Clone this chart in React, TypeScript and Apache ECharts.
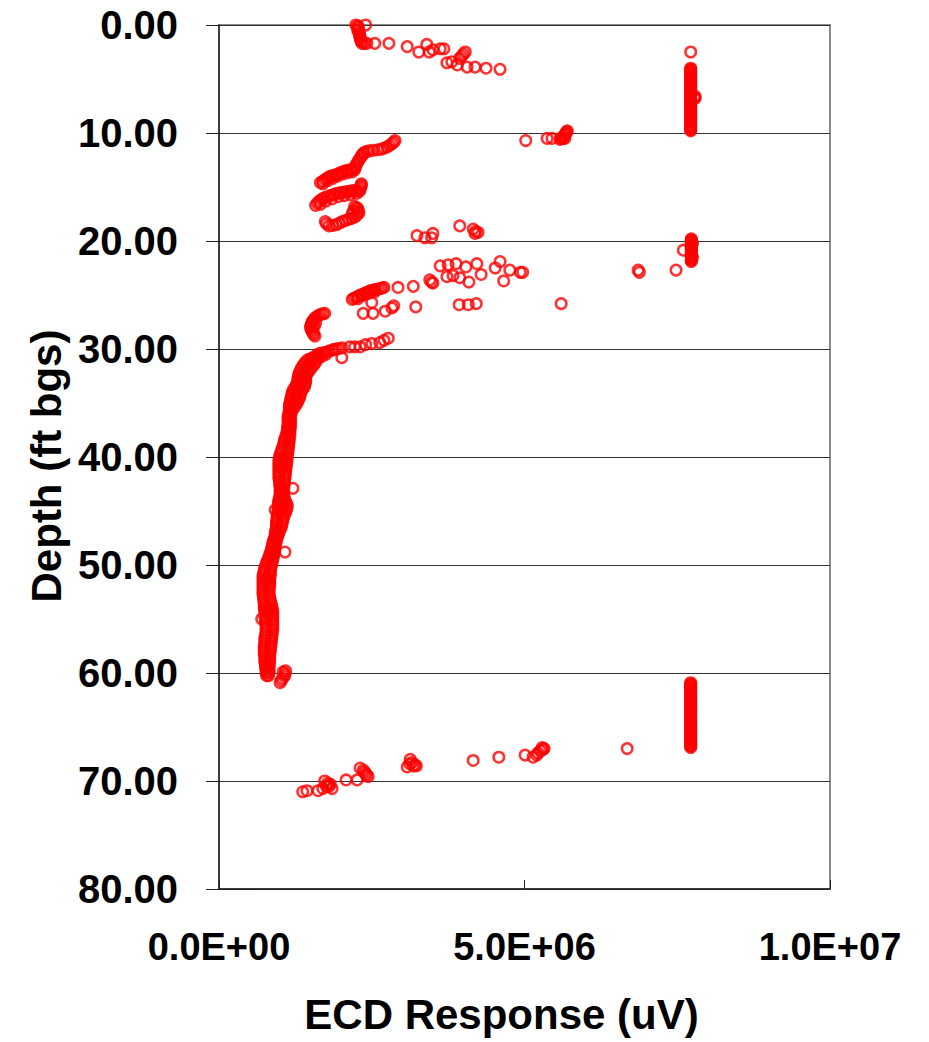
import React, { useEffect, useRef } from "react";
import * as echarts from "echarts";

// Each point: [ECD response in millions of uV, depth in ft bgs]
const topCluster: [number, number][] = [
  [2.24, 0.0], [2.40, 0.0], [2.27, 0.1], [2.28, 0.2], [2.28, 0.35], [2.27, 0.5], [2.29, 0.65],
  [2.30, 0.8], [2.30, 0.95], [2.31, 1.1], [2.31, 1.25], [2.32, 1.4], [2.33, 1.55], [2.34, 1.7],
  [2.38, 1.7], [2.42, 1.7], [2.55, 1.7], [2.78, 1.7], [3.08, 2.0], [3.27, 2.5], [3.40, 1.8],
  [3.44, 2.5], [3.50, 2.3], [3.62, 2.2], [3.68, 2.2], [3.73, 3.5], [3.81, 3.4], [3.90, 3.7],
  [3.94, 3.1], [4.00, 2.7], [4.03, 2.5], [3.97, 2.9], [4.06, 3.9], [4.19, 3.9], [4.37, 4.0],
  [4.60, 4.1],
];

const cluster10ft: [number, number][] = [
  [5.02, 10.7], [5.37, 10.5], [5.45, 10.5], [5.58, 10.6], [5.60, 10.5], [5.63, 10.5],
  [5.62, 10.4], [5.64, 10.3], [5.66, 10.2], [5.67, 10.1], [5.68, 10.0], [5.69, 9.9],
  [5.70, 9.8], [5.66, 10.5],
];

const columnUpper: [number, number][] = [
  [7.72, 2.5],
  [7.72, 4.0], [7.72, 4.1], [7.72, 4.2], [7.72, 4.3], [7.72, 4.4], [7.72, 4.5], [7.72, 4.6],
  [7.72, 4.7], [7.72, 4.8], [7.72, 4.9], [7.72, 5.0], [7.72, 5.1], [7.72, 5.2], [7.72, 5.3],
  [7.72, 5.4], [7.72, 5.5], [7.72, 5.6], [7.72, 5.7], [7.72, 5.8], [7.72, 5.9], [7.72, 6.0],
  [7.72, 6.1], [7.72, 6.2], [7.72, 6.3], [7.72, 6.4], [7.72, 6.5], [7.72, 6.6], [7.72, 6.7],
  [7.72, 6.8], [7.72, 6.9], [7.72, 7.0], [7.72, 7.1], [7.72, 7.2], [7.72, 7.3], [7.72, 7.4],
  [7.72, 7.5], [7.72, 7.6], [7.72, 7.7], [7.72, 7.8], [7.72, 7.9], [7.72, 8.0], [7.72, 8.1],
  [7.72, 8.2], [7.72, 8.3], [7.72, 8.4], [7.72, 8.5], [7.72, 8.6], [7.72, 8.7], [7.72, 8.8],
  [7.72, 8.9], [7.72, 9.0], [7.72, 9.1], [7.72, 9.2], [7.72, 9.3], [7.72, 9.4], [7.72, 9.5],
  [7.72, 9.6], [7.72, 9.7], [7.72, 9.8],
  [7.79, 6.6], [7.79, 6.7], [7.79, 6.8],
];

const columnMiddle: [number, number][] = [
  [7.73, 19.8], [7.73, 19.9], [7.73, 20.0], [7.73, 20.1], [7.73, 20.2], [7.73, 20.3],
  [7.73, 20.4], [7.73, 20.5], [7.73, 20.6], [7.73, 20.7], [7.73, 20.8], [7.73, 20.9],
  [7.73, 21.0], [7.73, 21.1], [7.73, 21.2], [7.73, 21.3], [7.73, 21.4], [7.73, 21.5],
  [7.73, 21.6], [7.73, 21.7], [7.73, 21.8], [7.73, 21.9],
  [7.75, 20.2], [7.75, 21.5],
  [7.60, 20.85], [7.48, 22.7], [6.86, 22.7], [6.88, 22.9],
];

const columnLower: [number, number][] = [
  [7.72, 60.9], [7.72, 61.0], [7.72, 61.1], [7.72, 61.2], [7.72, 61.3], [7.72, 61.4],
  [7.72, 61.5], [7.72, 61.6], [7.72, 61.7], [7.72, 61.8], [7.72, 61.9], [7.72, 62.0],
  [7.72, 62.1], [7.72, 62.2], [7.72, 62.3], [7.72, 62.4], [7.72, 62.5], [7.72, 62.6],
  [7.72, 62.7], [7.72, 62.8], [7.72, 62.9], [7.72, 63.0], [7.72, 63.1], [7.72, 63.2],
  [7.72, 63.3], [7.72, 63.4], [7.72, 63.5], [7.72, 63.6], [7.72, 63.7], [7.72, 63.8],
  [7.72, 63.9], [7.72, 64.0], [7.72, 64.1], [7.72, 64.2], [7.72, 64.3], [7.72, 64.4],
  [7.72, 64.5], [7.72, 64.6], [7.72, 64.7], [7.72, 64.8], [7.72, 64.9], [7.72, 65.0],
  [7.72, 65.1], [7.72, 65.2], [7.72, 65.3], [7.72, 65.4], [7.72, 65.5], [7.72, 65.6],
  [7.72, 65.7], [7.72, 65.8], [7.72, 65.9], [7.72, 66.0], [7.72, 66.1], [7.72, 66.2],
  [7.72, 66.3], [7.72, 66.4], [7.72, 66.5], [7.72, 66.6], [7.72, 66.7], [7.72, 66.8],
  [7.72, 66.9],
];

const band11to14: [number, number][] = [
  [2.88, 10.7], [2.86, 10.85], [2.83, 11.0], [2.79, 11.15], [2.75, 11.3], [2.70, 11.4],
  [2.66, 11.5], [2.60, 11.55], [2.52, 11.6], [2.46, 11.65], [2.42, 11.7], [2.38, 11.8],
  [2.36, 11.9], [2.34, 12.05], [2.33, 12.2], [2.30, 12.4], [2.28, 12.6], [2.26, 12.8],
  [2.24, 13.0], [2.23, 13.2], [2.22, 13.4], [2.18, 13.4], [2.15, 13.4], [2.11, 13.45],
  [2.07, 13.5], [2.02, 13.6], [1.98, 13.7], [1.94, 13.8], [1.90, 13.9], [1.86, 13.95],
  [1.82, 14.0], [1.78, 14.15], [1.74, 14.3], [1.70, 14.45], [1.66, 14.6],
  [1.70, 14.7], [1.78, 14.4], [1.86, 14.2], [1.94, 14.0], [2.02, 13.8], [2.10, 13.7],
  [2.18, 13.6],
];

const band15to17: [number, number][] = [
  [2.33, 14.7], [2.33, 14.85], [2.32, 15.0], [2.31, 15.2], [2.30, 15.4], [2.26, 15.35],
  [2.22, 15.3], [2.17, 15.35], [2.12, 15.4], [2.07, 15.45], [2.02, 15.5], [1.97, 15.55],
  [1.92, 15.6], [1.87, 15.7], [1.82, 15.8], [1.77, 15.9], [1.72, 16.0], [1.68, 16.15],
  [1.64, 16.3], [1.61, 16.5], [1.58, 16.7],
  [2.25, 15.6], [2.15, 15.7], [2.05, 15.8], [1.95, 15.9], [1.85, 16.1], [1.75, 16.3],
  [1.66, 16.6],
];

const band17to19: [number, number][] = [
  [2.22, 16.8], [2.25, 16.9], [2.27, 17.0], [2.28, 17.2], [2.29, 17.4], [2.26, 17.6],
  [2.22, 17.8], [2.17, 17.9], [2.12, 18.0], [2.07, 18.1], [2.02, 18.2], [1.97, 18.35],
  [1.92, 18.5], [1.86, 18.55], [1.80, 18.6], [1.76, 18.4], [1.74, 18.2],
  [2.20, 17.2], [2.18, 17.5],
];

const scatter19to20: [number, number][] = [
  [3.24, 19.5], [3.37, 19.7], [3.48, 19.7], [3.50, 19.3], [3.94, 18.6], [4.16, 18.9],
  [4.20, 19.1], [4.24, 19.2], [4.19, 19.3],
];

const band22to24: [number, number][] = [
  [3.62, 22.3], [3.75, 22.2], [3.88, 22.1], [4.04, 22.4], [4.22, 22.1], [4.60, 21.9],
  [4.52, 22.5], [4.76, 22.7], [4.93, 22.9], [4.97, 22.9], [4.66, 23.7], [4.29, 23.1],
  [4.09, 23.8], [3.94, 23.4], [3.83, 23.2], [3.73, 23.3], [3.50, 23.9], [3.45, 23.6],
  [3.48, 23.8], [3.18, 24.2], [2.93, 24.3],
];

const band24to26: [number, number][] = [
  [2.70, 24.3], [2.67, 24.35], [2.64, 24.4], [2.60, 24.45], [2.56, 24.5], [2.52, 24.55],
  [2.48, 24.6], [2.44, 24.7], [2.40, 24.8], [2.36, 24.9], [2.32, 25.0], [2.28, 25.1],
  [2.25, 25.2], [2.21, 25.3], [2.18, 25.4],
  [2.55, 24.7], [2.45, 24.85], [2.35, 25.05], [2.27, 25.35],
  [2.50, 25.7], [2.36, 26.7], [2.52, 26.7], [2.72, 26.5], [2.83, 26.2], [2.86, 26.0],
  [3.22, 26.1], [3.93, 25.9], [4.08, 25.9], [4.21, 25.8], [5.60, 25.8],
];

const cluster27to29: [number, number][] = [
  [1.73, 26.7], [1.70, 26.75], [1.66, 26.8], [1.63, 26.9], [1.60, 27.0], [1.57, 27.15],
  [1.55, 27.3], [1.53, 27.45], [1.52, 27.6], [1.51, 27.75], [1.50, 27.9], [1.50, 28.05],
  [1.51, 28.2], [1.52, 28.35], [1.54, 28.5], [1.55, 28.65], [1.57, 28.8],
  [1.58, 27.6], [1.56, 27.9],
];

const band29to31: [number, number][] = [
  [2.77, 29.0], [2.70, 29.2], [2.63, 29.4], [2.50, 29.5], [2.40, 29.6], [2.31, 29.8],
  [2.22, 29.8], [2.14, 29.8], [2.01, 29.9], [2.01, 30.8], [1.96, 29.95], [1.92, 30.0],
  [1.88, 30.05], [1.85, 30.1], [1.80, 30.2], [1.75, 30.3], [1.70, 30.35], [1.65, 30.4],
  [1.62, 30.5], [1.60, 30.6], [1.55, 30.75], [1.50, 30.9], [1.75, 30.5], [1.68, 30.7],
  [1.62, 30.85],
];

const mainCurve: [number, number][] = [
  [1.45, 31.0], [1.52, 31.0], [1.60, 31.0], [1.41, 31.25], [1.50, 31.25], [1.58, 31.25],
  [1.38, 31.5], [1.46, 31.5], [1.55, 31.5], [1.35, 31.75], [1.43, 31.75], [1.51, 31.75],
  [1.33, 32.0], [1.40, 32.0], [1.48, 32.0], [1.31, 32.25], [1.38, 32.25], [1.45, 32.25],
  [1.30, 32.5], [1.36, 32.5], [1.42, 32.5], [1.29, 32.75], [1.42, 32.75],
  [1.29, 33.0], [1.35, 33.0], [1.42, 33.0], [1.27, 33.25], [1.34, 33.25], [1.41, 33.25],
  [1.25, 33.5], [1.32, 33.5], [1.40, 33.5], [1.22, 33.75], [1.30, 33.75], [1.37, 33.75],
  [1.20, 34.0], [1.27, 34.0], [1.34, 34.0], [1.19, 34.25], [1.26, 34.25], [1.33, 34.25],
  [1.18, 34.5], [1.25, 34.5], [1.32, 34.5], [1.17, 34.75], [1.23, 34.75], [1.30, 34.75],
  [1.16, 35.0], [1.22, 35.0], [1.28, 35.0], [1.15, 35.25], [1.25, 35.25],
  [1.15, 35.5], [1.22, 35.5], [1.15, 35.75], [1.19, 35.75], [1.14, 36.0], [1.18, 36.0],
  [1.13, 36.25], [1.17, 36.25], [1.13, 36.5], [1.17, 36.5], [1.13, 36.75], [1.17, 36.75],
  [1.13, 37.0], [1.17, 37.0], [1.12, 37.25], [1.17, 37.25], [1.12, 37.5], [1.16, 37.5],
  [1.11, 37.75], [1.16, 37.75], [1.10, 38.0], [1.16, 38.0], [1.08, 38.25], [1.15, 38.25],
  [1.07, 38.5], [1.15, 38.5], [1.06, 38.75], [1.14, 38.75], [1.05, 39.0], [1.14, 39.0],
  [1.03, 39.25], [1.13, 39.25], [1.02, 39.5], [1.13, 39.5], [1.00, 39.75], [1.12, 39.75],
  [0.99, 40.0], [1.06, 40.0], [1.12, 40.0], [0.98, 40.25], [1.05, 40.25], [1.11, 40.25],
  [0.98, 40.5], [1.05, 40.5], [1.11, 40.5], [0.98, 40.75], [1.04, 40.75], [1.10, 40.75],
  [0.98, 41.0], [1.04, 41.0], [1.10, 41.0], [0.98, 41.25], [1.09, 41.25],
  [0.98, 41.5], [1.09, 41.5], [0.98, 41.75], [1.08, 41.75], [0.98, 42.0], [1.08, 42.0],
  [0.99, 42.25], [1.07, 42.25], [0.99, 42.5], [1.07, 42.5], [1.00, 42.75], [1.06, 42.75],
  [1.00, 43.0], [1.06, 43.0], [1.00, 43.25], [1.05, 43.25], [1.00, 43.5], [1.05, 43.5],
  [0.99, 43.75], [1.07, 43.75], [0.98, 44.0], [1.08, 44.0],
  [0.97, 44.25], [1.04, 44.25], [1.10, 44.25], [0.97, 44.5], [1.04, 44.5], [1.12, 44.5],
  [0.97, 44.75], [1.04, 44.75], [1.11, 44.75], [0.97, 45.0], [1.03, 45.0], [1.10, 45.0],
  [0.96, 45.25], [1.08, 45.25], [0.95, 45.5], [1.06, 45.5], [0.95, 45.75], [1.05, 45.75],
  [0.94, 46.0], [1.04, 46.0], [0.94, 46.25], [1.03, 46.25], [0.94, 46.5], [1.02, 46.5],
  [0.93, 46.75], [1.00, 46.75], [0.92, 47.0], [0.98, 47.0], [0.92, 47.25], [0.97, 47.25],
  [0.91, 47.5], [0.95, 47.5], [0.89, 47.75], [0.94, 47.75], [0.88, 48.0], [0.93, 48.0],
  [0.87, 48.25], [0.92, 48.25], [0.86, 48.5], [0.91, 48.5], [0.85, 48.75], [0.91, 48.75],
  [0.83, 49.0], [0.90, 49.0], [0.82, 49.25], [0.89, 49.25], [0.80, 49.5], [0.88, 49.5],
  [0.78, 49.75], [0.87, 49.75], [0.77, 50.0], [0.86, 50.0], [0.75, 50.25], [0.85, 50.25],
  [0.74, 50.5], [0.84, 50.5], [0.73, 50.75], [0.84, 50.75], [0.72, 51.0], [0.84, 51.0],
  [0.72, 51.25], [0.78, 51.25], [0.83, 51.25], [0.72, 51.5], [0.78, 51.5], [0.83, 51.5],
  [0.72, 51.75], [0.83, 51.75], [0.72, 52.0], [0.83, 52.0], [0.72, 52.25], [0.82, 52.25],
  [0.72, 52.5], [0.82, 52.5], [0.72, 52.75], [0.82, 52.75], [0.73, 53.0], [0.83, 53.0],
  [0.73, 53.25], [0.84, 53.25], [0.74, 53.5], [0.85, 53.5], [0.74, 53.75], [0.86, 53.75],
  [0.74, 54.0], [0.81, 54.0], [0.87, 54.0], [0.75, 54.25], [0.81, 54.25], [0.88, 54.25],
  [0.75, 54.5], [0.81, 54.5], [0.88, 54.5], [0.75, 54.75], [0.88, 54.75],
  [0.76, 55.0], [0.88, 55.0], [0.76, 55.25], [0.88, 55.25], [0.77, 55.5], [0.88, 55.5],
  [0.77, 55.75], [0.88, 55.75], [0.77, 56.0], [0.88, 56.0], [0.77, 56.25], [0.87, 56.25],
  [0.76, 56.5], [0.87, 56.5], [0.75, 56.75], [0.86, 56.75], [0.75, 57.0], [0.86, 57.0],
  [0.75, 57.25], [0.85, 57.25], [0.74, 57.5], [0.85, 57.5], [0.74, 57.75], [0.84, 57.75],
  [0.74, 58.0], [0.84, 58.0], [0.74, 58.25], [0.83, 58.25], [0.75, 58.5], [0.83, 58.5],
  [0.75, 58.75], [0.83, 58.75], [0.75, 59.0], [0.83, 59.0], [0.76, 59.25], [0.82, 59.25],
  [0.76, 59.5], [0.82, 59.5], [0.77, 59.75], [0.82, 59.75], [0.77, 60.0], [0.82, 60.0],
  [0.78, 60.25], [0.81, 60.25],
  [1.09, 59.8], [1.05, 59.9], [1.08, 60.1], [1.07, 60.3], [1.04, 60.5], [1.02, 60.7],
  [1.00, 60.9],
  [1.21, 42.9], [1.08, 48.8], [0.70, 55.0], [0.92, 44.9],
];

const lowerScatter: [number, number][] = [
  [6.68, 67.0], [5.29, 66.9], [5.32, 67.0], [5.30, 67.1], [5.26, 67.2], [5.22, 67.4],
  [5.20, 67.6], [5.14, 67.8], [5.01, 67.6], [4.58, 67.8], [4.16, 68.1], [3.13, 68.0],
  [3.21, 68.5], [3.08, 68.7], [3.23, 68.6], [3.16, 68.3], [3.18, 68.6], [3.12, 68.4],
  [2.44, 69.6], [2.42, 69.45], [2.40, 69.3], [2.38, 69.15], [2.36, 69.0], [2.31, 68.8],
  [2.26, 69.9], [2.08, 69.9], [1.82, 70.3], [1.80, 70.5], [1.78, 70.2], [1.73, 70.0],
  [1.85, 70.7], [1.76, 70.5], [1.70, 70.7], [1.62, 70.9], [1.44, 70.9], [1.37, 71.0],
];

const xTickValues = [0, 5e6, 1e7];
const xTickLabels = ["0.0E+00", "5.0E+06", "1.0E+07"];
const yTickValues = [0, 10, 20, 30, 40, 50, 60, 70, 80];
const yTickLabels = ["0.00", "10.00", "20.00", "30.00", "40.00", "50.00", "60.00", "70.00", "80.00"];

const allGroups = [
  topCluster, cluster10ft, columnUpper, columnMiddle, columnLower, band11to14, band15to17,
  band17to19, scatter19to20, band22to24, band24to26, cluster27to29, band29to31, mainCurve,
  lowerScatter,
];

const FONT = "'Liberation Sans', Arial, Helvetica, sans-serif";

export default function App() {
  const ref = useRef<HTMLDivElement>(null);

  useEffect(() => {
    document.body.style.margin = "0";
    if (!ref.current) return;
    const chart = echarts.init(ref.current, undefined, { renderer: "svg" });
    const data = allGroups.flat().map(([m, d]) => [m * 1e6, d]);

    chart.setOption({
      animation: false,
      backgroundColor: "#ffffff",
      grid: {
        left: 219,
        top: 25,
        right: 99,
        bottom: 153,
        show: true,
        borderColor: "#8a8a8a",
        borderWidth: 2,
        backgroundColor: "transparent",
      },
      xAxis: {
        type: "value",
        min: 0,
        max: 1e7,
        interval: 5e6,
        name: "ECD Response (uV)",
        nameLocation: "middle",
        nameGap: 104,
        nameTextStyle: {
          fontFamily: FONT,
          fontWeight: "bold",
          fontSize: 42,
          color: "#000",
          padding: [0, 46, 0, 0],
        },
        axisLine: { show: true, onZero: false, lineStyle: { color: "#222", width: 1.5 } },
        axisTick: { show: true, inside: true, length: 9, lineStyle: { color: "#222", width: 1 } },
        splitLine: { show: false },
        axisLabel: {
          margin: 39,
          fontFamily: FONT,
          fontWeight: "bold",
          fontSize: 38,
          color: "#000",
          formatter: (v: number) => {
            const i = xTickValues.indexOf(v);
            return i >= 0 ? xTickLabels[i] : "";
          },
        },
      },
      yAxis: {
        type: "value",
        inverse: true,
        min: 0,
        max: 80,
        interval: 10,
        name: "Depth (ft bgs)",
        nameLocation: "middle",
        nameRotate: 90,
        nameGap: 152,
        nameTextStyle: {
          fontFamily: FONT,
          fontWeight: "bold",
          fontSize: 42,
          color: "#000",
          padding: [0, 18, 0, 0],
        },
        axisLine: { show: true, onZero: false, lineStyle: { color: "#222", width: 1.5 } },
        axisTick: { show: true, inside: false, length: 13, lineStyle: { color: "#222", width: 1 } },
        splitLine: { show: true, lineStyle: { color: "#333", width: 1 } },
        axisLabel: {
          margin: 41,
          fontFamily: FONT,
          fontWeight: "bold",
          fontSize: 40,
          color: "#000",
          formatter: (v: number) => {
            const i = yTickValues.indexOf(v);
            return i >= 0 ? yTickLabels[i] : "";
          },
        },
      },
      series: [
        {
          name: "ECD",
          type: "scatter",
          data,
          symbol: "circle",
          symbolSize: 10.5,
          itemStyle: { color: "rgba(0,0,0,0)", borderColor: "#ff0000", borderWidth: 2.5 },
          emphasis: { disabled: true },
          z: 3,
        },
      ],
    });

    return () => chart.dispose();
  }, []);

  return <div ref={ref} style={{ width: 929, height: 1042 }} />;
}
